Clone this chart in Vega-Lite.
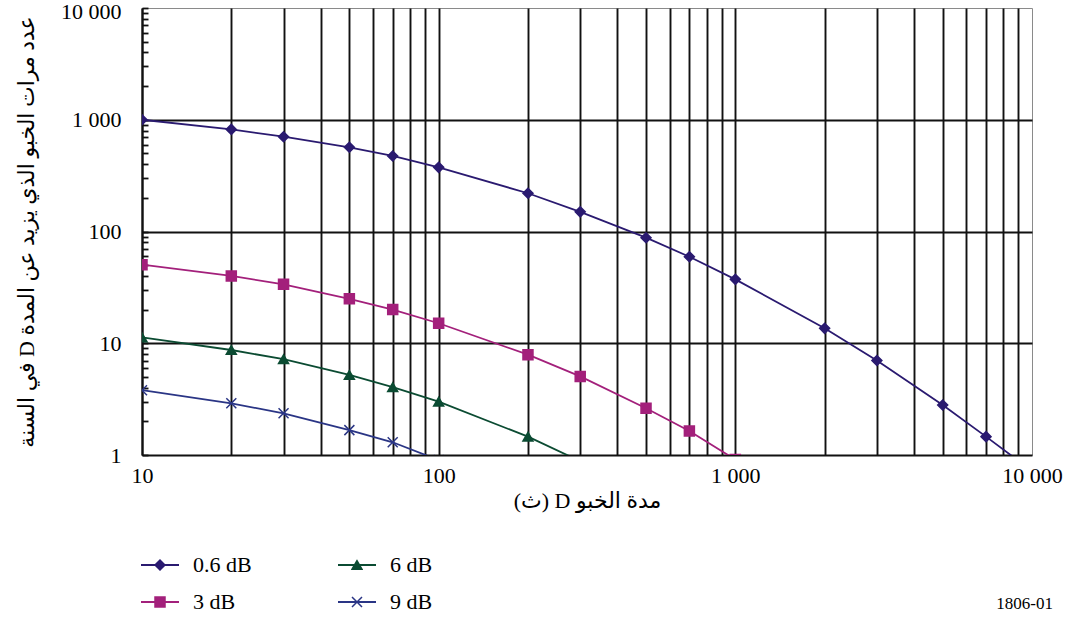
{
  "$schema": "https://vega.github.io/schema/vega-lite/v6.json",
  "width": 890,
  "height": 447,
  "autosize": {"type": "none"},
  "padding": {"left": 142, "top": 8, "right": 43, "bottom": 163},
  "background": "white",
  "config": {
    "view": {"stroke": "#8a8a8a", "strokeWidth": 1},
    "font": "Liberation Serif"
  },
  "title": {
    "text": "1806-01",
    "orient": "bottom",
    "anchor": "end",
    "frame": "group",
    "font": "Liberation Serif",
    "fontSize": 17,
    "fontWeight": "normal",
    "color": "black",
    "dx": 21,
    "offset": -18
  },
  "data": {
    "values": [
      {"s": "0.6 dB", "D": 10, "N": 1000},
      {"s": "0.6 dB", "D": 20, "N": 820},
      {"s": "0.6 dB", "D": 30, "N": 705},
      {"s": "0.6 dB", "D": 50, "N": 567},
      {"s": "0.6 dB", "D": 70, "N": 474},
      {"s": "0.6 dB", "D": 100, "N": 375},
      {"s": "0.6 dB", "D": 200, "N": 220},
      {"s": "0.6 dB", "D": 300, "N": 150},
      {"s": "0.6 dB", "D": 500, "N": 88},
      {"s": "0.6 dB", "D": 700, "N": 59.5},
      {"s": "0.6 dB", "D": 1000, "N": 37.3},
      {"s": "0.6 dB", "D": 2000, "N": 13.6},
      {"s": "0.6 dB", "D": 3000, "N": 7},
      {"s": "0.6 dB", "D": 5000, "N": 2.8},
      {"s": "0.6 dB", "D": 7000, "N": 1.46},
      {"s": "0.6 dB", "D": 10000, "N": 0.72},
      {"s": "3 dB", "D": 10, "N": 50.5},
      {"s": "3 dB", "D": 20, "N": 40},
      {"s": "3 dB", "D": 30, "N": 33.7},
      {"s": "3 dB", "D": 50, "N": 25},
      {"s": "3 dB", "D": 70, "N": 20},
      {"s": "3 dB", "D": 100, "N": 15.1},
      {"s": "3 dB", "D": 200, "N": 7.9},
      {"s": "3 dB", "D": 300, "N": 5.05},
      {"s": "3 dB", "D": 500, "N": 2.62},
      {"s": "3 dB", "D": 700, "N": 1.64},
      {"s": "3 dB", "D": 1000, "N": 0.91},
      {"s": "6 dB", "D": 10, "N": 11.3},
      {"s": "6 dB", "D": 20, "N": 8.7},
      {"s": "6 dB", "D": 30, "N": 7.2},
      {"s": "6 dB", "D": 50, "N": 5.2},
      {"s": "6 dB", "D": 70, "N": 4.05},
      {"s": "6 dB", "D": 100, "N": 3},
      {"s": "6 dB", "D": 200, "N": 1.46},
      {"s": "6 dB", "D": 300, "N": 0.88},
      {"s": "9 dB", "D": 10, "N": 3.8},
      {"s": "9 dB", "D": 20, "N": 2.9},
      {"s": "9 dB", "D": 30, "N": 2.36},
      {"s": "9 dB", "D": 50, "N": 1.67},
      {"s": "9 dB", "D": 70, "N": 1.3},
      {"s": "9 dB", "D": 100, "N": 0.9}
    ]
  },
  "encoding": {
    "x": {
      "field": "D",
      "type": "quantitative",
      "scale": {"type": "log", "domain": [10, 10000], "nice": false},
      "axis": {
        "title": "\u202bمدة الخبو D (ث)\u202c",
        "values": [10, 20, 30, 40, 50, 60, 70, 80, 90, 100, 200, 300, 400, 500, 600, 700, 800, 900, 1000, 2000, 3000, 4000, 5000, 6000, 7000, 8000, 9000, 10000],
        "grid": true,
        "gridColor": "#111111",
        "gridWidth": 1.9,
        "gridOpacity": {"condition": {"test": "datum.value >= 10000", "value": 0}, "value": 1},
        "ticks": false,
        "domainColor": "#111111",
        "domainWidth": 2,
        "labelExpr": "datum.value == 10 ? '10' : datum.value == 100 ? '100' : datum.value == 1000 ? '1 000' : datum.value == 10000 ? '10 000' : ''",
        "labelFont": "Liberation Serif",
        "labelFontSize": 22,
        "labelColor": "black",
        "labelPadding": 10,
        "labelFlush": false,
        "labelOverlap": false,
        "labelBound": false,
        "titleFont": "Liberation Serif, DejaVu Sans",
        "titleFontSize": 22,
        "titleFontWeight": "normal",
        "titleColor": "black",
        "titlePadding": 4
      }
    },
    "y": {
      "field": "N",
      "type": "quantitative",
      "scale": {"type": "log", "domain": [1, 10000], "nice": false},
      "axis": {
        "title": "\u202bعدد مرات الخبو الذي يزيد عن المدة D في السنة\u202c",
        "values": [1, 2, 3, 4, 5, 6, 7, 8, 9, 10, 20, 30, 40, 50, 60, 70, 80, 90, 100, 200, 300, 400, 500, 600, 700, 800, 900, 1000, 2000, 3000, 4000, 5000, 6000, 7000, 8000, 9000, 10000],
        "grid": true,
        "gridColor": "#111111",
        "gridWidth": 2,
        "gridOpacity": {"condition": {"test": "indexof([10, 100, 1000], datum.value) >= 0", "value": 1}, "value": 0},
        "ticks": true,
        "tickSize": -6,
        "tickWidth": 1.8,
        "tickColor": "#111111",
        "domainColor": "#111111",
        "domainWidth": 2,
        "labelExpr": "datum.value == 1 ? '1' : datum.value == 10 ? '10' : datum.value == 100 ? '100' : datum.value == 1000 ? '1 000' : datum.value == 10000 ? '10 000' : ''",
        "labelOffset": {"condition": {"test": "datum.value >= 10000", "value": 3}, "value": 0},
        "labelFont": "Liberation Serif",
        "labelFontSize": 22,
        "labelColor": "black",
        "labelPadding": 27,
        "labelFlush": false,
        "labelOverlap": false,
        "labelBound": false,
        "titleFont": "Liberation Serif, DejaVu Sans",
        "titleFontSize": 22,
        "titleFontWeight": "normal",
        "titleColor": "black",
        "titlePadding": 22
      }
    }
  },
  "layer": [
    {
      "mark": {"type": "line", "clip": true, "strokeWidth": 1.8},
      "encoding": {
        "color": {
          "field": "s",
          "type": "nominal",
          "scale": {"domain": ["0.6 dB", "3 dB", "6 dB", "9 dB"], "range": ["#2a1a70", "#a3207b", "#0b4b32", "#2a3585"]},
          "legend": {
            "title": null,
            "orient": "none",
            "legendX": -2,
            "legendY": 545,
            "columns": 2,
            "padding": 0,
            "symbolType": "stroke",
            "symbolSize": 1444,
            "symbolStrokeWidth": 2,
            "clipHeight": 24,
            "rowPadding": 13,
            "columnPadding": 85,
            "labelOffset": 13,
            "labelFont": "Liberation Serif",
            "labelFontSize": 22,
            "labelColor": "black"
          }
        }
      }
    },
    {
      "mark": {"type": "point", "clip": true, "filled": true, "size": 100, "strokeWidth": 1.5, "opacity": 1},
      "encoding": {
        "color": {
          "field": "s",
          "type": "nominal",
          "scale": {"domain": ["0.6 dB", "3 dB", "6 dB", "9 dB"], "range": ["#2a1a70", "#a3207b", "#0b4b32", "#2a3585"]},
          "legend": {
            "title": null,
            "orient": "none",
            "legendX": 12,
            "legendY": 545,
            "columns": 2,
            "padding": 0,
            "symbolSize": 100,
            "symbolStrokeWidth": 1.5,
            "clipHeight": 24,
            "rowPadding": 13,
            "columnPadding": 185,
            "labelOffset": 0,
            "labelExpr": "''",
            "labelFontSize": 1
          }
        },
        "stroke": {
          "field": "s",
          "type": "nominal",
          "scale": {"domain": ["0.6 dB", "3 dB", "6 dB", "9 dB"], "range": ["#2a1a70", "#a3207b", "#0b4b32", "#2a3585"]},
          "legend": {"title": null}
        },
        "shape": {
          "field": "s",
          "type": "nominal",
          "scale": {"domain": ["0.6 dB", "3 dB", "6 dB", "9 dB"], "range": ["diamond", "square", "triangle-up", "M-1,-1L1,1M-1,1L1,-1"]},
          "legend": {"title": null}
        }
      }
    }
  ],
  "resolve": {"legend": {"color": "independent", "shape": "independent", "stroke": "independent"}}
}
